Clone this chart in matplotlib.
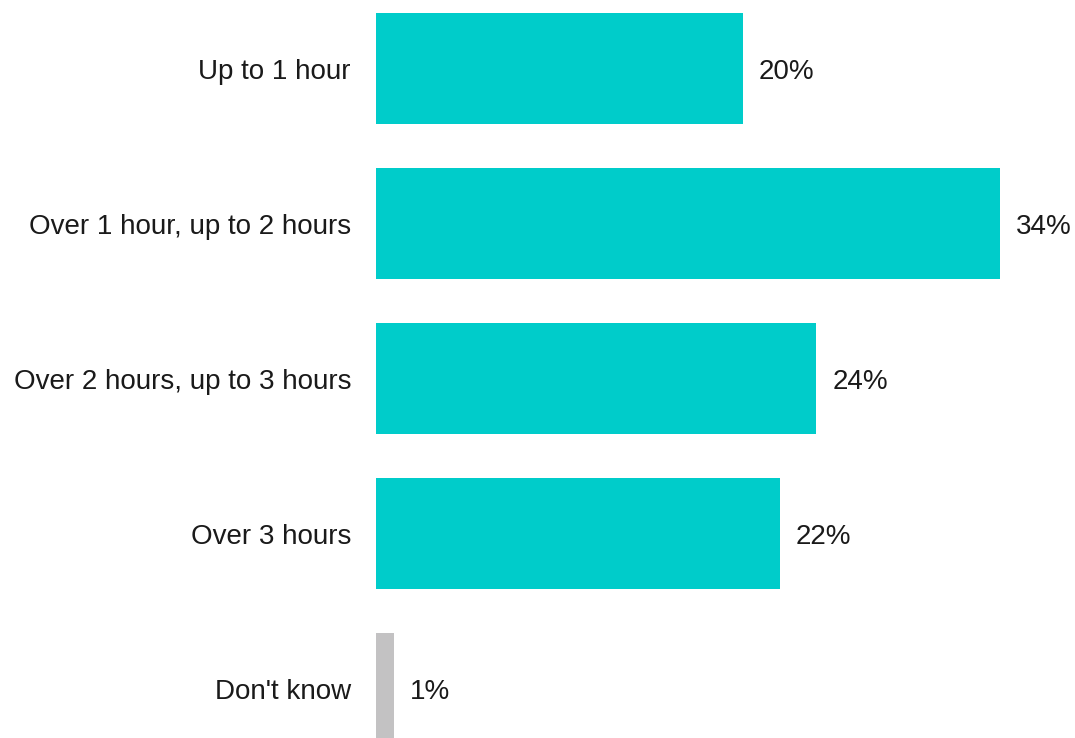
import matplotlib.pyplot as plt

categories = ['Up to 1 hour', 'Over 1 hour, up to 2 hours', 'Over 2 hours, up to 3 hours',
              'Over 3 hours', "Don't know"]
values = [20, 34, 24, 22, 1]
colors = ['#00CCCA', '#00CCCA', '#00CCCA', '#00CCCA', '#C3C2C3']

plt.rcParams['font.family'] = ['Liberation Sans', 'DejaVu Sans']

fig = plt.figure(figsize=(10.75, 7.38), dpi=100)
ax = fig.add_axes([376 / 1075, 0, 699 / 1075, 1])

pos = list(range(len(categories)))
ax.barh(pos, values, height=0.716, color=colors)
# value labels sit just right of each bar, baseline a little below centre
for y, v in zip(pos, values):
    ax.text(v + 0.87, y + 0.068, f'{v}%', va='baseline', ha='left', fontsize=20, color='#1a1a1a')

ax.set_xlim(0, 699 / 18.35)
ax.set_ylim(4.319, -0.442)
ax.set_yticks(pos)
ax.set_yticklabels(categories, fontsize=20, color='#1a1a1a')
ax.tick_params(axis='y', length=0, pad=18)
ax.set_xticks([])
for s in ax.spines.values():
    s.set_visible(False)

plt.savefig('out.png', dpi=100)
